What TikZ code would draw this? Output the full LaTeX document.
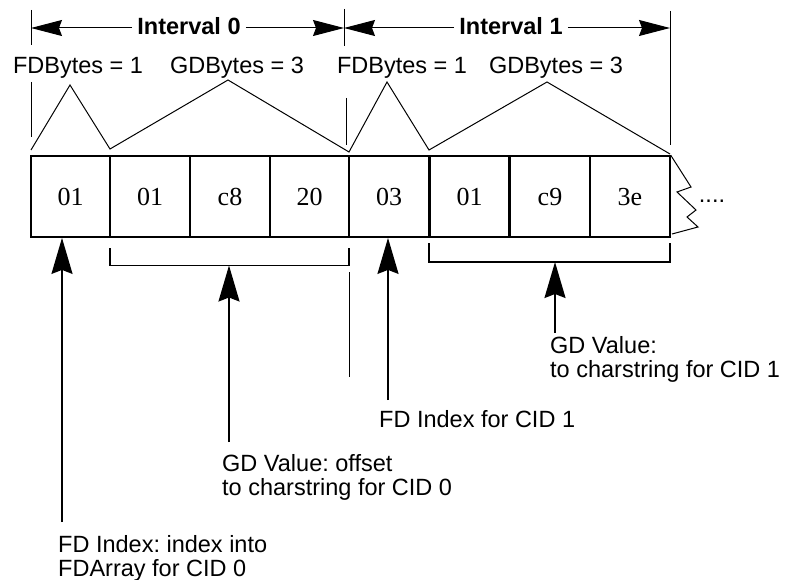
\documentclass[tikz,border=0pt]{standalone}
\usepackage{fontspec}
\setmainfont{Liberation Serif}
\newfontfamily\lsans{Liberation Sans}
\usetikzlibrary{arrows.meta}
\frenchspacing
\tikzset{
  cell/.style={draw, line width=1.8pt, minimum width=79.5pt, minimum height=81pt, inner sep=0pt,
    font=\fontsize{26}{28}\selectfont, text height=18pt, text depth=0pt},
  lbl/.style={font=\lsans\fontsize{23.5}{24}\selectfont, inner sep=0pt, align=left},
  ivl/.style={font=\lsans\bfseries\fontsize{23.5}{24}\selectfont, inner sep=5pt},
  thin/.style={line width=1pt},
  brk/.style={line width=1.8pt},
  bigarrow/.style={line width=1.8pt, -{Stealth[length=36pt,width=21pt,inset=4pt]}},
  ivarrow/.style={line width=1pt, -{Stealth[length=31pt,width=16pt,inset=3pt]}},
}
\begin{document}
\begin{tikzpicture}[x=1pt,y=-1pt]
\useasboundingbox (0,0) rectangle (786,580);
% cells
\node[cell] (b0) at (70.5,196.5) {01};
\node[cell] (b1) at (150,196.5) {01};
\node[cell] (b2) at (230,196.5) {c8};
\node[cell] (b3) at (309.5,196.5) {20};
\node[cell] (b4) at (389,196.5) {03};
\node[cell] (b5) at (469.5,196.5) {01};
\node[cell] (b6) at (550,196.5) {c9};
\node[cell] (b7) at (630,196.5) {3e};
% zigzag continuation
\draw[thin] (b7.north east) -- (691,187) -- (677,192) -- (696,210) -- (687,217) -- (698,227) -- (672,234);
\node[lbl, anchor=base] (dots) at (712,202) {....};
% tick lines
\coordinate (t0a) at (31,10); \coordinate (t0b) at (31,45);
\coordinate (t0c) at (31,82); \coordinate (t0d) at (31,137);
\coordinate (t1a) at (344,9); \coordinate (t1b) at (344,46);
\coordinate (t1c) at (346.5,98); \coordinate (t1d) at (346.5,145);
\coordinate (t2a) at (670,11); \coordinate (t2b) at (670,145);
\draw[thin] (t0a) -- (t0b) (t0c) -- (t0d) (t1a) -- (t1b) (t1c) -- (t1d) (t2a) -- (t2b);
% intervals
\node[ivl, anchor=base] (iv0) at (189,35) {Interval 0};
\node[ivl, anchor=base] (iv1) at (511,35) {Interval 1};
\draw[ivarrow] (iv0.west |- 0,28) -- (31,28);
\draw[ivarrow] (iv0.east |- 0,28) -- (344,28);
\draw[ivarrow] (iv1.west |- 0,28) -- (344,28);
\draw[ivarrow] (iv1.east |- 0,28) -- (670,28);
% byte counts
\node[lbl, anchor=base] (fd0) at (78,74) {FDBytes = 1};
\node[lbl, anchor=base] (gd0) at (237,74) {GDBytes = 3};
\node[lbl, anchor=base] (fd1) at (402,74) {FDBytes = 1};
\node[lbl, anchor=base] (gd1) at (556,74) {GDBytes = 3};
% peaks
\draw[thin] (31,150) -- (70,85) -- (110,149) -- (228,80) -- (349,152) -- (387,82) -- (429,150) -- (547,82) -- (670,154);
% brackets
\draw[brk] (110,248) -- (110,265.5) coordinate (br0l) -- (349,265.5) coordinate (br0r) -- (349,248);
\draw[brk] (429,243) -- (429,262) coordinate (br1l) -- (670,262) coordinate (br1r) -- (670,243);
\draw[thin] (349,272) -- (349,377);
% labels (anchor = baseline of last line)
\node[lbl, anchor=base west] (l0) at (58,576) {FD Index: index into\\FDArray for CID 0};
\node[lbl, anchor=base west] (l1) at (222,495) {GD Value: offset\\to charstring for CID 0};
\node[lbl, anchor=base west] (l2) at (379,427) {FD Index for CID 1};
\node[lbl, anchor=base west] (l3) at (550,377) {GD Value:\\to charstring for CID 1};
% arrows
\coordinate (a0) at (62,522);
\coordinate (a1) at (229,442);
\coordinate (a2) at (388,400);
\coordinate (a3) at (555,333);
\draw[bigarrow] (a0) -- (a0 |- b0.south);
\draw[bigarrow] (a1) -- (a1 |- br0l);
\draw[bigarrow] (a2) -- (a2 |- b4.south);
\draw[bigarrow] (a3) -- (a3 |- br1l);
\end{tikzpicture}
\end{document}
